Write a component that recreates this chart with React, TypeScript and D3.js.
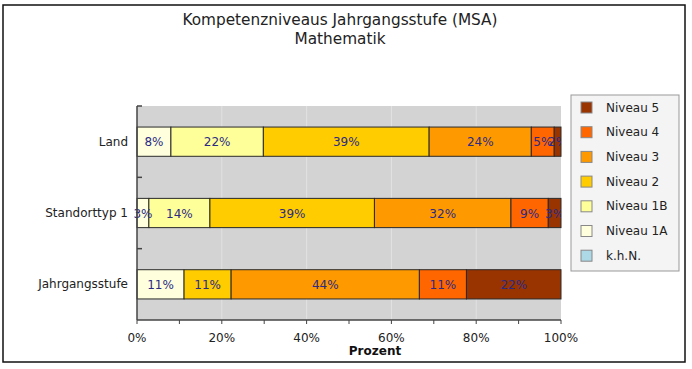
import React from 'react';
import * as d3 from 'd3';

// categories (top to bottom) and series (stack order, left to right)
const categories = ['Land', 'Standorttyp 1', 'Jahrgangsstufe'];
const seriesNames = ['k.h.N.', 'Niveau 1A', 'Niveau 1B', 'Niveau 2', 'Niveau 3', 'Niveau 4', 'Niveau 5'];
const seriesColors = ['#add8e6', '#ffffdd', '#ffff99', '#ffcc00', '#ff9900', '#ff6600', '#993300'];

const khn = [0, 0, 0];
const niveau1A = [8.0, 2.8, 11.1];
const niveau1B = [21.8, 14.4, 0];
const niveau2 = [39.1, 38.8, 11.1];
const niveau3 = [24.1, 32.2, 44.4];
const niveau4 = [5.4, 8.8, 11.1];
const niveau5 = [1.6, 3.0, 22.3];

const xTicks = [0, 10, 20, 30, 40, 50, 60, 70, 80, 90, 100];
const xTickLabels = [0, 20, 40, 60, 80, 100];
const legendOrder = ['Niveau 5', 'Niveau 4', 'Niveau 3', 'Niveau 2', 'Niveau 1B', 'Niveau 1A', 'k.h.N.'];

const W = 692;
const H = 369;
const plot = { left: 137, top: 106, right: 561, bottom: 320 };
const font = '"DejaVu Sans", sans-serif';

export default function App() {
  const seriesValues = [khn, niveau1A, niveau1B, niveau2, niveau3, niveau4, niveau5];
  const rows = categories.map((c, i) => {
    const r: any = { cat: c };
    seriesNames.forEach((s, j) => (r[s] = seriesValues[j][i]));
    return r;
  });
  const stacked = d3.stack().keys(seriesNames)(rows);

  const x = d3.scaleLinear().domain([0, 100]).range([plot.left, plot.right]);
  const y = d3.scaleBand().domain(categories).range([plot.top, plot.bottom]).paddingInner(0.59).paddingOuter(0.295);
  const band = d3.scaleBand().domain(categories).range([plot.top, plot.bottom]);

  const colorOf = d3.scaleOrdinal<string, string>().domain(seriesNames).range(seriesColors);

  return (
    <svg width={W} height={H} style={{ position: 'absolute', left: 0, top: 0, background: '#fff' }}>
      <defs>
        <clipPath id="plotClip">
          <rect x={0} y={plot.top} width={plot.right} height={plot.bottom - plot.top} />
        </clipPath>
      </defs>
      <rect x={3} y={5} width={682} height={357} fill="#fff" stroke="#111" strokeWidth={1.5} />

      {/* title */}
      <text x={340} y={25} textAnchor="middle" fontFamily={font} fontSize={15.3} fill="#222">
        Kompetenzniveaus Jahrgangsstufe (MSA)
      </text>
      <text x={340} y={44} textAnchor="middle" fontFamily={font} fontSize={15.3} fill="#222">
        Mathematik
      </text>

      {/* plot background */}
      <rect x={plot.left} y={plot.top} width={plot.right - plot.left} height={plot.bottom - plot.top} fill="#d3d3d3" />
      {xTickLabels.slice(1, -1).map((t) => (
        <line key={t} x1={x(t)} x2={x(t)} y1={plot.top} y2={plot.bottom} stroke="#e2e2e2" strokeWidth={1} />
      ))}

      {/* bars */}
      {stacked.map((s) => (
        <g key={s.key}>
          {s.map((d, i) => {
            const v = d[1] - d[0];
            if (v <= 0) return null;
            return (
              <rect
                key={i}
                x={x(d[0])}
                y={y(categories[i])}
                width={x(d[1]) - x(d[0])}
                height={y.bandwidth()}
                fill={colorOf(s.key)}
                stroke="#2a2a2a"
                strokeWidth={1}
              />
            );
          })}
        </g>
      ))}
      <g clipPath="url(#plotClip)">
        {stacked.map((s) => (
          <g key={s.key}>
            {s.map((d, i) => {
              const v = d[1] - d[0];
              if (v <= 0) return null;
              return (
                <text
                  key={i}
                  x={x((d[0] + d[1]) / 2)}
                  y={(y(categories[i]) as number) + y.bandwidth() / 2 + 4.5}
                  textAnchor="middle"
                  fontFamily={font}
                  fontSize={12}
                  fill="#2b2b85"
                >
                  {Math.round(v)}%
                </text>
              );
            })}
          </g>
        ))}
      </g>

      {/* y axis */}
      <line x1={plot.left} x2={plot.left} y1={plot.top} y2={plot.bottom} stroke="#444" strokeWidth={1.5} />
      {[plot.top, ...categories.slice(1).map((c) => band(c) as number)].map((t, i) => (
        <line key={i} x1={plot.left} x2={plot.left + 5} y1={t} y2={t} stroke="#444" strokeWidth={1.5} />
      ))}
      {categories.map((c) => (
        <text
          key={c}
          x={plot.left - 9}
          y={(band(c) as number) + band.bandwidth() / 2 + 4}
          textAnchor="end"
          fontFamily={font}
          fontSize={12}
          fill="#222"
        >
          {c}
        </text>
      ))}

      {/* x axis */}
      <line x1={plot.left} x2={plot.right} y1={plot.bottom} y2={plot.bottom} stroke="#444" strokeWidth={1.5} />
      {xTicks.map((t) => (
        <line key={t} x1={x(t)} x2={x(t)} y1={plot.bottom} y2={plot.bottom + 4} stroke="#444" strokeWidth={1} />
      ))}
      {xTickLabels.map((t) => (
        <text key={t} x={x(t)} y={342} textAnchor="middle" fontFamily={font} fontSize={12} fill="#222">
          {t}%
        </text>
      ))}
      <text x={375} y={355} textAnchor="middle" fontFamily={font} fontSize={12} fontWeight="bold" fill="#111">
        Prozent
      </text>

      {/* legend */}
      <rect x={571} y={95} width={108} height={176} fill="#f4f4f4" stroke="#999" strokeWidth={1} />
      {legendOrder.map((name, i) => {
        const cy = 107.5 + i * 24.7;
        return (
          <g key={name}>
            <rect x={581} y={cy - 5.5} width={11} height={11} fill={colorOf(name)} stroke="#888" strokeWidth={1} />
            <text x={606} y={cy + 4} fontFamily={font} fontSize={12} fill="#222">
              {name}
            </text>
          </g>
        );
      })}
    </svg>
  );
}
